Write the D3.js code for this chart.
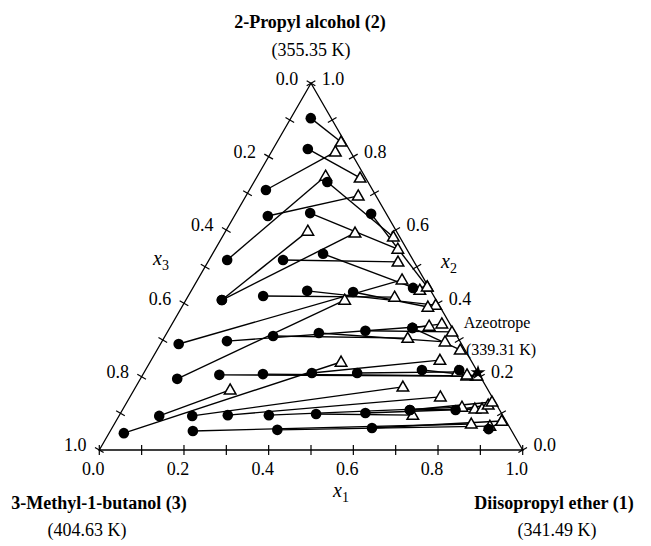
<!DOCTYPE html>
<html>
<head>
<meta charset="utf-8">
<script src="https://cdn.jsdelivr.net/npm/d3@7"></script>
<style>
  body { margin: 0; background: #fff; }
  svg text { font-family: "Liberation Serif", "Times New Roman", serif; fill: #000; }
</style>
</head>
<body>
<div id="chart"></div>
<script>
// liquid compositions (filled circles): x1 = diisopropyl ether, x2 = 2-propyl alcohol
var liqX1 = [0.047, 0.082, 0.039, 0.079, 0.043, 0.173, 0.320, 0.175, 0.085, 0.085, 0.175,
             0.261, 0.177, 0.274, 0.384, 0.043, 0.087, 0.153, 0.255, 0.359, 0.466, 0.573,
             0.573, 0.035, 0.095, 0.181, 0.283, 0.397, 0.504, 0.653, 0.741, 0.173, 0.256,
             0.353, 0.463, 0.578, 0.679, 0.787, 0.679, 0.195, 0.393, 0.614, 0.891, 0.520];
var liqX2 = [0.905, 0.821, 0.709, 0.638, 0.518, 0.731, 0.644, 0.646, 0.409, 0.409, 0.518,
             0.535, 0.420, 0.434, 0.431, 0.289, 0.194, 0.297, 0.311, 0.319, 0.325, 0.333,
             0.333, 0.046, 0.093, 0.205, 0.207, 0.210, 0.210, 0.218, 0.218, 0.093, 0.095,
             0.095, 0.098, 0.101, 0.109, 0.109, 0.109, 0.052, 0.055, 0.060, 0.057, 0.442];
// vapour compositions (open triangles)
var vapX1 = [0.151, 0.245, 0.151, 0.265, 0.161, 0.404, 0.552, 0.431, 0.194, 0.308, 0.449,
             0.539, 0.489, 0.597, 0.581, 0.483, 0.375, 0.610, 0.576, 0.669, 0.672, 0.637,
             0.716, 0.451, 0.227, 0.767, 0.789, 0.682, 0.739, 0.791, 0.766, 0.631, 0.733,
             0.798, 0.693, 0.831, 0.848, 0.857, 0.862, 0.843, 0.890, 0.911, 0.911, 0.552];
var vapX2 = [0.840, 0.742, 0.813, 0.693, 0.747, 0.581, 0.445, 0.548, 0.597, 0.592, 0.513,
             0.436, 0.417, 0.395, 0.390, 0.464, 0.409, 0.338, 0.305, 0.295, 0.322, 0.344,
             0.273, 0.240, 0.164, 0.202, 0.202, 0.245, 0.213, 0.202, 0.205, 0.172, 0.145,
             0.117, 0.095, 0.112, 0.112, 0.123, 0.131, 0.071, 0.065, 0.079, 0.079, 0.445];
// azeotrope on the 1-2 binary
var azeoX1 = 0.789, azeoX2 = 0.211;

var tickVals = d3.range(0, 11).map(function(i) { return i / 10; });
var labelVals = [0, 0.2, 0.4, 0.6, 0.8, 1.0];

var width = 651, height = 546;

var xScale = d3.scaleLinear().domain([0, 1]).range([99.3, 522.7]);
var yScale = d3.scaleLinear().domain([0, 1]).range([450, 83.3]);

// ternary -> screen
function px(x1, x2) { return [xScale(x1 + x2 / 2), yScale(x2)]; }

var svg = d3.select("#chart").append("svg")
  .attr("width", width)
  .attr("height", height);

// triangle frame
var corners = [px(0, 0), px(1, 0), px(0, 1)];
svg.append("path")
  .attr("d", "M" + corners.join("L") + "Z")
  .attr("fill", "none")
  .attr("stroke", "#000")
  .attr("stroke-width", 1.3);

var tl = 5;
// bottom ticks (x1)
tickVals.forEach(function(t) {
  var p = px(t, 0);
  svg.append("line").attr("x1", p[0]).attr("y1", p[1] - tl).attr("x2", p[0]).attr("y2", p[1] + tl)
    .attr("stroke", "#000").attr("stroke-width", 1.2);
});
// left ticks (x3)
tickVals.forEach(function(t) {
  var p = px(0, 1 - t), nx = 0.866, ny = 0.5;
  svg.append("line").attr("x1", p[0] - tl * nx).attr("y1", p[1] - tl * ny)
    .attr("x2", p[0] + tl * nx).attr("y2", p[1] + tl * ny)
    .attr("stroke", "#000").attr("stroke-width", 1.2);
});
// right ticks (x2)
tickVals.forEach(function(t) {
  var p = px(1 - t, t), nx = 0.866, ny = -0.5;
  svg.append("line").attr("x1", p[0] - tl * nx).attr("y1", p[1] - tl * ny)
    .attr("x2", p[0] + tl * nx).attr("y2", p[1] + tl * ny)
    .attr("stroke", "#000").attr("stroke-width", 1.2);
});

// tick labels
labelVals.forEach(function(t) {
  var b = px(t, 0);
  svg.append("text").attr("x", b[0] - 6).attr("y", 475)
    .attr("text-anchor", "middle").style("font-size", "18px").text(t.toFixed(1));
  var l = px(0, 1 - t);
  svg.append("text").attr("x", l[0] - 24).attr("y", l[1] - 5).attr("dy", "0.35em")
    .attr("text-anchor", "middle").style("font-size", "18px").text(t.toFixed(1));
  var r = px(1 - t, t);
  svg.append("text").attr("x", r[0] + 22).attr("y", r[1] - 5).attr("dy", "0.35em")
    .attr("text-anchor", "middle").style("font-size", "18px").text(t.toFixed(1));
});

// tie lines
var ties = liqX1.map(function(d, i) {
  return { l: px(liqX1[i], liqX2[i]), v: px(vapX1[i], vapX2[i]) };
});
svg.append("g").selectAll("line").data(ties).enter().append("line")
  .attr("x1", function(d) { return d.l[0]; })
  .attr("y1", function(d) { return d.l[1]; })
  .attr("x2", function(d) { return d.v[0]; })
  .attr("y2", function(d) { return d.v[1]; })
  .attr("stroke", "#000")
  .attr("stroke-width", 1.4);

// vapour: open triangles
var tri = d3.symbol().type(d3.symbolTriangle).size(58);
svg.append("g").selectAll("path").data(ties).enter().append("path")
  .attr("d", tri)
  .attr("transform", function(d) { return "translate(" + d.v[0] + "," + (d.v[1] + 0.8) + ")"; })
  .attr("fill", "#fff")
  .attr("stroke", "#000")
  .attr("stroke-width", 1.5);

// liquid: filled circles
svg.append("g").selectAll("circle").data(ties).enter().append("circle")
  .attr("cx", function(d) { return d.l[0]; })
  .attr("cy", function(d) { return d.l[1]; })
  .attr("r", 5.3)
  .attr("fill", "#000");

// azeotrope
var az = px(azeoX1, azeoX2);
svg.append("path")
  .attr("d", d3.symbol().type(d3.symbolStar).size(70))
  .attr("transform", "translate(" + az[0] + "," + az[1] + ")")
  .attr("fill", "#000");

svg.append("text").attr("x", 497).attr("y", 328).attr("text-anchor", "middle")
  .style("font-size", "16px").text("Azeotrope");
svg.append("text").attr("x", 501).attr("y", 355).attr("text-anchor", "middle")
  .style("font-size", "16px").text("(339.31 K)");

// axis titles
function axisTitle(x, y, sub) {
  var t = svg.append("text").attr("x", x).attr("y", y).style("font-size", "20px");
  t.append("tspan").style("font-style", "italic").text("x");
  t.append("tspan").attr("dy", 5).style("font-size", "14px").text(sub);
}
axisTitle(153, 265, "3");
axisTitle(441, 268, "2");
axisTitle(333, 497, "1");

// component names
svg.append("text").attr("x", 310).attr("y", 28).attr("text-anchor", "middle")
  .style("font-size", "18px").style("font-weight", "bold").text("2-Propyl alcohol (2)");
svg.append("text").attr("x", 311).attr("y", 56).attr("text-anchor", "middle")
  .style("font-size", "18px").text("(355.35 K)");
svg.append("text").attr("x", 99).attr("y", 509).attr("text-anchor", "middle")
  .style("font-size", "18px").style("font-weight", "bold").text("3-Methyl-1-butanol (3)");
svg.append("text").attr("x", 87).attr("y", 536).attr("text-anchor", "middle")
  .style("font-size", "18px").text("(404.63 K)");
svg.append("text").attr("x", 554).attr("y", 509).attr("text-anchor", "middle")
  .style("font-size", "18px").style("font-weight", "bold").text("Diisopropyl ether (1)");
svg.append("text").attr("x", 557).attr("y", 536).attr("text-anchor", "middle")
  .style("font-size", "18px").text("(341.49 K)");
</script>
</body>
</html>
